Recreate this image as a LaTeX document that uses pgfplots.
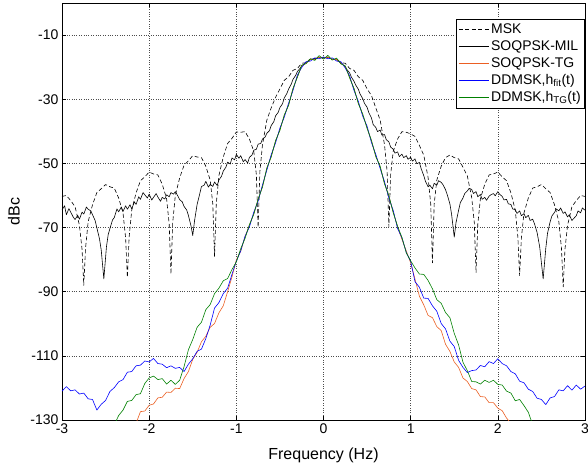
\documentclass[border=0pt]{standalone}
\usepackage{pgfplots}
\pgfplotsset{compat=1.18}
\usepackage{fontspec}
\setmainfont{Liberation Sans}
\definecolor{tgorange}{RGB}{235,95,35}
\definecolor{ddblue}{RGB}{0,0,255}
\definecolor{ddgreen}{RGB}{0,128,0}
\begin{document}
\begin{tikzpicture}
\begin{axis}[
  scale only axis,
  width=523pt, height=417pt,
  xmin=-3, xmax=3, ymin=-130, ymax=0,
  xtick={-3,-2,-1,0,1,2,3},
  ytick={-130,-110,-90,-70,-50,-30,-10},
  /pgf/number format/assume math mode=true,
  ticklabel style={font=\fontsize{14}{16}\selectfont},
  tick align=inside,
  tick style={black, thin},
  major tick length=4pt,
  xmajorgrids, ymajorgrids,
  grid style={dotted, black!70, line width=0.5pt},
  axis line style={black, line width=0.6pt},
  xlabel={Frequency (Hz)},
  ylabel={dBc},
  label style={font=\fontsize{16}{18}\selectfont},
  xlabel style={at={(axis description cs:0.5,-0.084)}, anchor=center},
  ylabel style={at={(axis description cs:-0.092,0.5)}, anchor=center},
  legend style={at={(rel axis cs:1,0.962)}, anchor=north east, draw=black, line width=0.6pt,
    font=\fontsize{14}{15}\selectfont, cells={anchor=west}, inner xsep=2pt, inner ysep=3pt, row sep=1.5pt,
    /tikz/every even column/.append style={column sep=2pt}},
  legend image code/.code={\draw[#1] (0pt,0pt) -- (30pt,0pt);},
  legend image post style={line width=0.6pt},
  every axis plot/.append style={line width=0.6pt, line join=round},
  clip=true,
]
% MSK
\addplot[black, dash pattern=on 4pt off 2.5pt] coordinates {
(-3.00,-60.3) (-2.95,-60.0) (-2.90,-61.6) (-2.85,-63.5) (-2.80,-69.3) (-2.77,-76.8) (-2.75,-88) (-2.73,-76.5) (-2.70,-68.2)
(-2.65,-62.9) (-2.60,-59.1) (-2.55,-57.9) (-2.50,-56.6) (-2.45,-57.3) (-2.40,-57.7) (-2.35,-60.8) (-2.30,-65.4) (-2.27,-73.3)
(-2.25,-85.5) (-2.23,-73) (-2.20,-64.6) (-2.15,-59.2) (-2.10,-55.4) (-2.05,-54.2) (-2.00,-52.7) (-1.95,-53.3) (-1.90,-53.6)
(-1.85,-56.5) (-1.80,-61.0) (-1.77,-69) (-1.75,-84.5) (-1.73,-68.5) (-1.70,-60.0) (-1.65,-54.5) (-1.60,-50.6) (-1.55,-49.2)
(-1.50,-47.6) (-1.45,-48.0) (-1.40,-48.2) (-1.35,-50.9) (-1.30,-55.2) (-1.27,-62.6) (-1.25,-79) (-1.23,-62.6) (-1.20,-53.8)
(-1.15,-48.0) (-1.10,-43.8) (-1.05,-42.2) (-1.00,-40.2) (-0.95,-40.3) (-0.90,-40.1) (-0.85,-42.4) (-0.80,-46.2) (-0.77,-53.6)
(-0.75,-70) (-0.73,-52.6) (-0.70,-44.2) (-0.65,-36.5) (-0.60,-32.7) (-0.55,-29.4) (-0.50,-26.8) (-0.45,-24.1) (-0.40,-23.0)
(-0.35,-21.0) (-0.30,-20.4) (-0.25,-18.8) (-0.20,-18.6) (-0.15,-17.4) (-0.10,-17.6) (-0.05,-16.8) (0.00,-17.2)
(0.05,-16.8) (0.10,-17.6) (0.15,-17.4) (0.20,-18.6) (0.25,-18.8) (0.30,-20.4) (0.35,-21.0) (0.40,-23.0) (0.45,-24.1)
(0.50,-26.8) (0.55,-28.8) (0.60,-32.7) (0.65,-36.5) (0.70,-44.2) (0.73,-52.6) (0.75,-69.8) (0.77,-53.6) (0.80,-46.2)
(0.85,-42.4) (0.90,-40.1) (0.95,-40.3) (1.00,-40.8) (1.05,-41.6) (1.10,-44.4) (1.15,-47.4) (1.20,-54.4) (1.23,-62.6)
(1.25,-81) (1.27,-62.6) (1.30,-55.2) (1.35,-50.9) (1.40,-48.2) (1.45,-47.4) (1.50,-48.2) (1.55,-48.6) (1.60,-51.2)
(1.65,-53.9) (1.70,-60.6) (1.73,-68.5) (1.75,-84) (1.77,-69) (1.80,-61.0) (1.85,-56.5) (1.90,-53.6) (1.95,-53.3)
(2.00,-52.7) (2.05,-54.2) (2.10,-55.4) (2.15,-59.2) (2.20,-64.6) (2.23,-73) (2.25,-85) (2.27,-73.3) (2.30,-65.4)
(2.35,-60.8) (2.40,-57.7) (2.45,-57.3) (2.50,-56.6) (2.55,-57.9) (2.60,-59.1) (2.65,-62.9) (2.70,-68.2) (2.73,-76.5)
(2.75,-88.5) (2.77,-76.8) (2.80,-69.3) (2.85,-63.5) (2.90,-61.6) (2.95,-60.0) (3.00,-60.3)
};
\addlegendentry{MSK}
% SOQPSK-MIL
\addplot[black] coordinates {
(-3.00,-64.5) (-2.97,-63.2) (-2.95,-66.0) (-2.92,-64.1) (-2.90,-65.2) (-2.87,-66.8) (-2.85,-67.5) (-2.82,-66.2) (-2.80,-67.4)
(-2.77,-65.2) (-2.75,-65.8) (-2.72,-63.6) (-2.70,-64.3) (-2.67,-64.8) (-2.65,-66.0) (-2.62,-67.8) (-2.60,-70.1) (-2.57,-73.5)
(-2.55,-77.0) (-2.52,-86.0) (-2.49,-76.0) (-2.47,-72.2) (-2.45,-70.3) (-2.42,-67.6) (-2.40,-66.9) (-2.37,-64.2) (-2.35,-65.1)
(-2.32,-63.6) (-2.30,-65.0) (-2.27,-63.2) (-2.25,-64.3) (-2.22,-62.9) (-2.20,-64.2) (-2.17,-62.0) (-2.15,-62.8) (-2.12,-60.4)
(-2.10,-61.2) (-2.07,-59.1) (-2.05,-59.8) (-2.02,-60.8) (-2.00,-59.6) (-1.97,-61.4) (-1.95,-60.6) (-1.92,-59.4) (-1.90,-60.5)
(-1.87,-61.8) (-1.85,-60.6) (-1.82,-61.1) (-1.80,-59.8) (-1.77,-60.4) (-1.75,-59.1) (-1.72,-59.6) (-1.70,-58.8) (-1.67,-60.2)
(-1.65,-61.3) (-1.62,-62.0) (-1.60,-63.4) (-1.57,-64.5) (-1.55,-66.2) (-1.52,-69.5) (-1.50,-72.5) (-1.48,-68.0) (-1.45,-62.8)
(-1.42,-59.5) (-1.40,-57.2) (-1.37,-56.8) (-1.35,-55.6) (-1.32,-57.4) (-1.30,-56.5) (-1.27,-57.2) (-1.25,-55.8) (-1.22,-56.9)
(-1.20,-55.2) (-1.17,-54.0) (-1.15,-52.4) (-1.12,-51.2) (-1.10,-49.6) (-1.07,-50.2) (-1.05,-48.3) (-1.02,-48.9) (-1.00,-47.2)
(-0.97,-48.4) (-0.95,-47.6) (-0.92,-49.5) (-0.90,-48.8) (-0.87,-49.9) (-0.85,-48.1) (-0.82,-47.4) (-0.80,-45.9) (-0.77,-45.6)
(-0.75,-44.0) (-0.72,-43.8) (-0.70,-42.4) (-0.67,-41.8) (-0.65,-40.6) (-0.62,-39.8) (-0.60,-38.2) (-0.57,-37.0) (-0.55,-35.2)
(-0.52,-34.1) (-0.50,-32.6) (-0.47,-31.4) (-0.45,-29.6) (-0.42,-28.2) (-0.40,-26.8) (-0.37,-25.3) (-0.35,-23.8) (-0.32,-22.6)
(-0.30,-21.4) (-0.27,-20.4) (-0.25,-19.6) (-0.20,-18.5) (-0.15,-17.6) (-0.10,-17.3) (-0.05,-17.0) (0.00,-17.2)
(0.05,-17.0) (0.10,-17.5) (0.15,-17.7) (0.20,-18.7) (0.25,-19.9) (0.27,-20.8) (0.30,-21.8) (0.32,-23.1) (0.35,-24.4)
(0.37,-25.6) (0.40,-26.9) (0.42,-28.4) (0.45,-29.8) (0.47,-31.3) (0.50,-32.5) (0.52,-34.2) (0.55,-35.8) (0.57,-37.9)
(0.60,-38.8) (0.62,-40.1) (0.65,-39.6) (0.67,-41.2) (0.70,-41.0) (0.72,-42.6) (0.75,-43.3) (0.77,-44.9) (0.80,-45.6)
(0.82,-46.8) (0.85,-46.4) (0.87,-47.9) (0.90,-47.1) (0.92,-48.2) (0.95,-47.6) (0.97,-48.7) (1.00,-48.1) (1.02,-49.3)
(1.05,-48.6) (1.07,-50.1) (1.10,-49.7) (1.12,-51.6) (1.15,-53.8) (1.17,-55.6) (1.20,-57.3) (1.22,-56.8) (1.25,-57.9)
(1.27,-56.2) (1.30,-56.8) (1.32,-55.4) (1.35,-55.9) (1.37,-56.6) (1.40,-58.2) (1.42,-59.8) (1.45,-62.6) (1.47,-66.0)
(1.50,-73.0) (1.52,-68.5) (1.55,-64.6) (1.57,-62.2) (1.60,-60.8) (1.62,-59.4) (1.65,-58.6) (1.67,-57.8) (1.70,-58.1)
(1.72,-59.4) (1.75,-58.8) (1.77,-60.4) (1.80,-59.7) (1.82,-61.2) (1.85,-60.6) (1.87,-61.5) (1.90,-60.2) (1.92,-59.8)
(1.95,-59.4) (1.97,-60.1) (2.00,-58.8) (2.02,-59.6) (2.05,-60.3) (2.07,-61.4) (2.10,-61.2) (2.12,-62.6) (2.15,-62.8)
(2.17,-64.2) (2.20,-64.4) (2.22,-65.6) (2.25,-64.8) (2.27,-66.3) (2.30,-65.7) (2.32,-66.9) (2.35,-66.2) (2.37,-67.8)
(2.40,-67.4) (2.42,-68.8) (2.45,-71.5) (2.48,-76.0) (2.52,-86.0) (2.55,-76.5) (2.57,-71.8) (2.60,-68.2) (2.62,-66.4)
(2.65,-65.3) (2.67,-64.2) (2.70,-64.8) (2.72,-63.9) (2.75,-65.6) (2.77,-65.1) (2.80,-66.7) (2.82,-66.0) (2.85,-67.8)
(2.87,-67.2) (2.90,-66.3) (2.92,-64.8) (2.95,-65.4) (2.97,-63.9) (3.00,-64.6)
};
\addlegendentry{SOQPSK-MIL}
% SOQPSK-TG
\addplot[tgorange] coordinates {
(-2.15,-131.0) (-2.10,-127.4) (-2.05,-127.2) (-2.00,-125.4) (-1.95,-125.0) (-1.90,-123.1) (-1.85,-122.9) (-1.80,-121.3)
(-1.75,-121.4) (-1.70,-120.1) (-1.65,-120.2) (-1.60,-117.1) (-1.55,-114.9) (-1.50,-111.1) (-1.45,-108.9) (-1.40,-105.6)
(-1.35,-103.9) (-1.30,-101.1) (-1.25,-99.9) (-1.20,-96.6) (-1.15,-94.4) (-1.10,-90.0) (-1.05,-85.4) (-1.00,-80.1)
(-0.95,-77.4) (-0.90,-72.8) (-0.85,-69.3) (-0.80,-65.7) (-0.75,-61.3) (-0.70,-57.2) (-0.65,-51.6) (-0.60,-47.8)
(-0.55,-43.1) (-0.50,-39.5) (-0.45,-35.1) (-0.40,-31.7) (-0.35,-26.8) (-0.30,-23.0) (-0.25,-19.6) (-0.20,-18.8)
(-0.15,-17.6) (-0.10,-17.6) (-0.05,-16.9) (0.00,-17.2) (0.05,-16.9) (0.10,-17.6) (0.15,-17.6) (0.20,-18.8)
(0.25,-19.8) (0.30,-23.2) (0.35,-26.8) (0.40,-31.2) (0.45,-34.8) (0.50,-38.9) (0.55,-43.0) (0.60,-47.7)
(0.65,-51.1) (0.70,-56.2) (0.75,-60.3) (0.80,-65.2) (0.85,-69.8) (0.90,-73.7) (0.95,-77.3) (1.00,-81.0)
(1.05,-86.1) (1.10,-91.4) (1.15,-94.1) (1.20,-97.4) (1.25,-98.1) (1.30,-100.9) (1.35,-102.1) (1.40,-106.4)
(1.45,-108.6) (1.50,-111.9) (1.55,-113.6) (1.60,-116.9) (1.65,-118.0) (1.70,-120.2) (1.75,-120.6) (1.80,-122.7)
(1.85,-122.8) (1.90,-124.6) (1.95,-124.6) (2.00,-126.3) (2.05,-127.1) (2.10,-129.4) (2.15,-131.0)
};
\addlegendentry{SOQPSK-TG}
% DDMSK h_fit
\addplot[ddblue] coordinates {
(-3.00,-121.0) (-2.95,-119.6) (-2.90,-120.9) (-2.85,-120.6) (-2.80,-121.9) (-2.75,-121.6) (-2.70,-123.4) (-2.65,-123.6)
(-2.60,-126.9) (-2.55,-125.1) (-2.50,-123.9) (-2.45,-121.1) (-2.40,-119.9) (-2.35,-118.1) (-2.30,-117.4) (-2.25,-115.1)
(-2.20,-114.9) (-2.15,-113.1) (-2.10,-112.9) (-2.05,-111.6) (-2.00,-111.9) (-1.95,-110.8) (-1.90,-112.4) (-1.85,-112.6)
(-1.80,-113.7) (-1.75,-113.1) (-1.70,-113.9) (-1.65,-113.6) (-1.60,-114.9) (-1.55,-112.6) (-1.50,-110.9) (-1.45,-108.6)
(-1.40,-107.9) (-1.35,-104.6) (-1.30,-100.4) (-1.25,-95.1) (-1.20,-93.4) (-1.15,-90.6) (-1.10,-88.9) (-1.05,-84.6)
(-1.00,-80.5) (-0.95,-77.3) (-0.90,-72.7) (-0.85,-69.8) (-0.80,-65.2) (-0.75,-61.8) (-0.70,-56.7) (-0.65,-52.1)
(-0.60,-47.3) (-0.55,-43.6) (-0.50,-39.0) (-0.45,-35.6) (-0.40,-31.2) (-0.35,-27.3) (-0.30,-22.5) (-0.25,-20.1)
(-0.20,-18.3) (-0.15,-18.1) (-0.10,-17.1) (-0.05,-17.4) (0.00,-16.8) (0.05,-17.4) (0.10,-17.1) (0.15,-18.1)
(0.20,-18.3) (0.25,-20.3) (0.30,-22.7) (0.35,-27.3) (0.40,-30.7) (0.45,-35.3) (0.50,-38.4) (0.55,-43.5)
(0.60,-47.2) (0.65,-51.6) (0.70,-55.7) (0.75,-60.8) (0.80,-64.7) (0.85,-70.3) (0.90,-73.2) (0.95,-77.8)
(1.00,-80.5) (1.05,-86.9) (1.10,-88.6) (1.15,-92.0) (1.20,-92.1) (1.25,-94.4) (1.30,-96.1) (1.35,-99.9)
(1.40,-101.6) (1.45,-105.4) (1.50,-107.1) (1.55,-111.4) (1.60,-113.6) (1.65,-115.2) (1.70,-114.6) (1.75,-114.4)
(1.80,-113.0) (1.85,-113.4) (1.90,-111.8) (1.95,-112.4) (2.00,-110.9) (2.05,-112.4) (2.10,-113.1) (2.15,-114.9)
(2.20,-115.6) (2.25,-117.9) (2.30,-118.4) (2.35,-120.4) (2.40,-121.1) (2.45,-123.2) (2.50,-123.6) (2.55,-125.2)
(2.60,-123.1) (2.65,-122.7) (2.70,-120.6) (2.75,-120.9) (2.80,-119.3) (2.85,-120.7) (2.90,-119.1) (2.95,-120.4) (3.00,-119.4)
};
\addlegendentry{DDMSK,h\textsubscript{fit}(t)}
% DDMSK h_TG
\addplot[ddgreen] coordinates {
(-2.40,-131.5) (-2.35,-128.6) (-2.30,-126.9) (-2.25,-124.2) (-2.20,-123.9) (-2.15,-122.1) (-2.10,-121.8) (-2.05,-118.6)
(-2.00,-116.9) (-1.95,-116.3) (-1.90,-117.4) (-1.85,-117.1) (-1.80,-118.8) (-1.75,-117.6) (-1.70,-118.9) (-1.65,-117.6)
(-1.60,-113.4) (-1.55,-108.1) (-1.50,-104.9) (-1.45,-101.1) (-1.40,-99.5) (-1.35,-95.6) (-1.30,-94.0) (-1.25,-90.6)
(-1.20,-88.9) (-1.15,-86.6) (-1.10,-85.9) (-1.05,-83.1) (-1.00,-80.7) (-0.95,-76.6) (-0.90,-73.4) (-0.85,-69.1)
(-0.80,-65.9) (-0.75,-61.1) (-0.70,-57.4) (-0.65,-51.4) (-0.60,-48.0) (-0.55,-42.9) (-0.50,-39.7) (-0.45,-34.9)
(-0.40,-31.9) (-0.35,-26.6) (-0.30,-23.2) (-0.25,-19.4) (-0.20,-18.9) (-0.15,-17.4) (-0.10,-17.9) (-0.05,-16.4)
(0.00,-17.5) (0.05,-16.3) (0.10,-17.8) (0.15,-17.2) (0.20,-19.0) (0.25,-19.6) (0.30,-23.4) (0.35,-26.6)
(0.40,-31.4) (0.45,-34.6) (0.50,-39.1) (0.55,-42.8) (0.60,-47.9) (0.65,-50.9) (0.70,-56.4) (0.75,-60.1)
(0.80,-65.4) (0.85,-69.6) (0.90,-73.1) (0.95,-77.9) (1.00,-80.4) (1.05,-82.6) (1.10,-84.5) (1.15,-84.6)
(1.20,-86.5) (1.25,-89.1) (1.30,-92.5) (1.35,-93.6) (1.40,-96.5) (1.45,-98.1) (1.50,-103.0) (1.55,-106.6)
(1.60,-112.0) (1.65,-114.6) (1.70,-118.0) (1.75,-118.1) (1.80,-118.8) (1.85,-117.6) (1.90,-118.3) (1.95,-117.6)
(2.00,-118.9) (2.05,-119.1) (2.10,-121.0) (2.15,-121.6) (2.20,-124.0) (2.25,-123.6) (2.30,-125.5) (2.35,-127.6) (2.40,-131.5)
};
\addlegendentry{DDMSK,h\textsubscript{TG}(t)}
\end{axis}
\pgfresetboundingbox
\path[use as bounding box] (-62pt,-47pt) rectangle (526pt,420pt);
\end{tikzpicture}
\end{document}
